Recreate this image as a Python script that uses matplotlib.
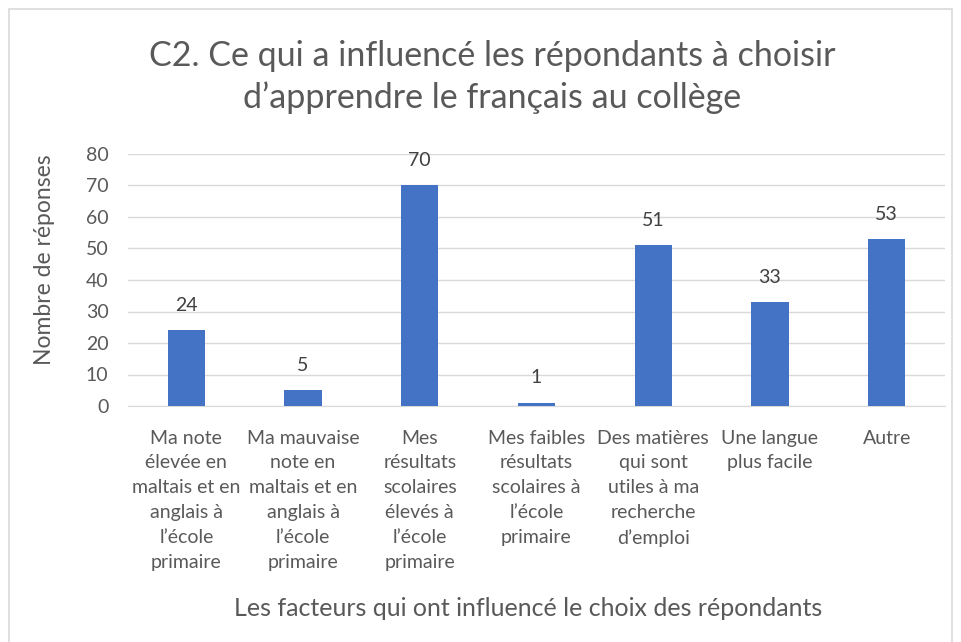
import matplotlib
matplotlib.use("Agg")
import matplotlib.pyplot as plt
from matplotlib.patches import Rectangle

plt.rcParams['font.family'] = ['Lato', 'DejaVu Sans']

categories = [
    "Ma note\nélevée en\nmaltais et en\nanglais à\nl’école\nprimaire",
    "Ma mauvaise\nnote en\nmaltais et en\nanglais à\nl’école\nprimaire",
    "Mes\nrésultats\nscolaires\nélevés à\nl’école\nprimaire",
    "Mes faibles\nrésultats\nscolaires à\nl’école\nprimaire",
    "Des matières\nqui sont\nutiles à ma\nrecherche\nd’emploi",
    "Une langue\nplus facile",
    "Autre",
]
values = [24, 5, 70, 1, 51, 33, 53]
y_ticks = [0, 10, 20, 30, 40, 50, 60, 70, 80]

title = "C2. Ce qui a influencé les répondants à choisir\nd’apprendre le français au collège"
x_label = "Les facteurs qui ont influencé le choix des répondants"
y_label = "Nombre de réponses"

text_color = "#595959"
bar_color = "#4472C4"
grid_color = "#D9D9D9"

fig = plt.figure(figsize=(9.61, 6.42), dpi=100)
fig.patches.append(Rectangle((9 / 961, -0.01), (952 - 9) / 961, 1 - 9 / 642 + 0.01,
                             transform=fig.transFigure, fill=False,
                             edgecolor="#D9D9D9", linewidth=1.2))

ax = fig.add_axes([128 / 961, 1 - 406 / 642, (945 - 128) / 961, (406 - 154) / 642])
x = list(range(len(categories)))
bars = ax.bar(x, values, width=0.32, color=bar_color, zorder=3)
for xi, v in zip(x, values):
    ax.text(xi, v + 7.9, str(v), ha="center", va="center", fontsize=14, color="#404040")

ax.set_xlim(-0.5, len(categories) - 0.5)
ax.set_ylim(0, 80)
ax.set_yticks(y_ticks)
ax.set_yticklabels([str(t) for t in y_ticks], fontsize=14, color=text_color)
ax.set_xticks(x)
ax.set_xticklabels(categories, fontsize=14, color=text_color, linespacing=1.56,
                   va="top")
ax.tick_params(axis="both", length=0)
ax.tick_params(axis="x", pad=17)
ax.tick_params(axis="y", pad=14)
ax.grid(axis="y", color=grid_color, linewidth=1, zorder=0)
for side in ["top", "right", "left"]:
    ax.spines[side].set_visible(False)
ax.spines["bottom"].set_color(grid_color)

fig.text(492 / 961, 1 - 77 / 642, title, ha="center", va="center",
         fontsize=24.5, color=text_color, linespacing=1.32)
fig.text(528 / 961, 1 - 608 / 642, x_label, ha="center", va="center",
         fontsize=18, color=text_color)
fig.text(45 / 961, 1 - 260 / 642, y_label, ha="center", va="center", rotation=90,
         fontsize=16.5, color=text_color)

fig.savefig("out.png", dpi=100)
